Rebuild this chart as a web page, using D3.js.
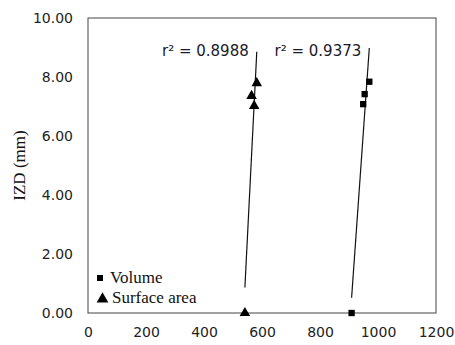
<!DOCTYPE html>
<html lang="en">
<head>
<meta charset="utf-8">
<title>IZD vs volume / surface area</title>
<script src="https://d3js.org/d3.v7.min.js"></script>
<style>
  html, body { margin: 0; padding: 0; background: #fff; }
  .tick-label { font-family: "DejaVu Sans", sans-serif; font-size: 14px; fill: #222; }
  .serif { font-family: "Liberation Serif", "Times New Roman", serif; fill: #111; }
  .r2 { font-family: "DejaVu Sans", sans-serif; font-size: 15px; fill: #1a1a2a; }
</style>
</head>
<body>
<div id="chart"></div>
<script>
// data
const surfX = [541, 573, 564, 582];
const surfY = [0, 7.02, 7.36, 7.79];
const volX = [909, 949, 954, 970];
const volY = [0, 7.08, 7.42, 7.84];
const xTicks = [0, 200, 400, 600, 800, 1000, 1200];
const yTicks = [0, 2, 4, 6, 8, 10];
const r2Labels = ["r² = 0.8988", "r² = 0.9373"];

const W = 455, H = 345;
const m = {left: 88, top: 18, right: 19, bottom: 32};

const svg = d3.select("#chart").append("svg")
    .attr("width", W).attr("height", H);

const x = d3.scaleLinear().domain([0, 1200]).range([m.left, W - m.right]);
const y = d3.scaleLinear().domain([0, 10]).range([H - m.bottom, m.top]);

// plot frame
svg.append("rect")
    .attr("x", x(0)).attr("y", y(10))
    .attr("width", x(1200) - x(0)).attr("height", y(0) - y(10))
    .attr("fill", "none").attr("stroke", "#444").attr("stroke-width", 1);

// axes (labels only, no tick marks)
const yAxis = svg.append("g")
    .attr("transform", "translate(" + x(0) + ",0)")
    .call(d3.axisLeft(y).tickValues(yTicks).tickSize(0).tickPadding(15)
        .tickFormat(d3.format(".2f")));
yAxis.select(".domain").remove();
yAxis.selectAll("text").attr("class", "tick-label").attr("font-family", null).attr("font-size", null);

const xAxis = svg.append("g")
    .attr("transform", "translate(0," + y(0) + ")")
    .call(d3.axisBottom(x).tickValues(xTicks).tickSize(0).tickPadding(14)
        .tickFormat(d3.format("d")));
xAxis.select(".domain").remove();
xAxis.selectAll("text").attr("class", "tick-label").attr("font-family", null).attr("font-size", null);

// y title
svg.append("text")
    .attr("class", "serif")
    .attr("transform", "translate(25," + ((y(0) + y(10)) / 2) + ")rotate(-90)")
    .attr("text-anchor", "middle")
    .style("font-size", "17px")
    .text("IZD (mm)");

// least squares fit, drawn over the data's x range
function fit(xs, ys) {
    const mx = d3.mean(xs), my = d3.mean(ys);
    const sxy = d3.sum(xs, (v, i) => (v - mx) * (ys[i] - my));
    const sxx = d3.sum(xs, v => (v - mx) * (v - mx));
    const b = sxy / sxx;
    const a = my - b * mx;
    const x0 = d3.min(xs), x1 = d3.max(xs);
    return [[x0, a + b * x0], [x1, a + b * x1]];
}

const line = d3.line().x(d => x(d[0])).y(d => y(d[1]));

[[surfX, surfY], [volX, volY]].forEach(s => {
    svg.append("path")
        .attr("d", line(fit(s[0], s[1])))
        .attr("fill", "none").attr("stroke", "#111").attr("stroke-width", 1.2);
});

const tri = d3.symbol().type(d3.symbolTriangle).size(48);
const sq = d3.symbol().type(d3.symbolSquare).size(40);

svg.append("g").selectAll("path")
    .data(surfX.map((v, i) => [v, surfY[i]]))
    .join("path")
    .attr("d", tri)
    .attr("transform", d => "translate(" + x(d[0]) + "," + y(d[1]) + ")")
    .attr("fill", "#000");

svg.append("g").selectAll("path")
    .data(volX.map((v, i) => [v, volY[i]]))
    .join("path")
    .attr("d", sq)
    .attr("transform", d => "translate(" + x(d[0]) + "," + y(d[1]) + ")")
    .attr("fill", "#000");

// r squared labels, right aligned just left of each line's top end
const fits = [fit(surfX, surfY), fit(volX, volY)];
r2Labels.forEach((t, i) => {
    svg.append("text")
        .attr("class", "r2")
        .attr("x", x(fits[i][1][0]) - 8)
        .attr("y", 56)
        .attr("text-anchor", "end")
        .text(t);
});

// legend
const legend = svg.append("g");
legend.append("path")
    .attr("d", d3.symbol().type(d3.symbolSquare).size(36))
    .attr("transform", "translate(100,278)");
legend.append("text").attr("class", "serif").style("font-size", "17px")
    .attr("x", 110).attr("y", 283).text("Volume");
legend.append("path")
    .attr("d", d3.symbol().type(d3.symbolTriangle).size(60))
    .attr("transform", "translate(102.5,299)");
legend.append("text").attr("class", "serif").style("font-size", "17px")
    .attr("x", 112).attr("y", 303).text("Surface area");
</script>
</body>
</html>
